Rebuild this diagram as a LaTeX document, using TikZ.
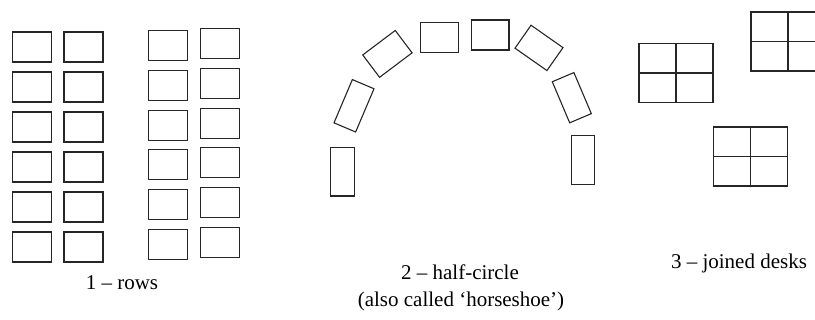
\documentclass[tikz,border=0pt]{standalone}
\usepackage{fontspec}
\setmainfont{Liberation Serif}
\begin{document}
\begin{tikzpicture}[x=1pt,y=-1pt,
  desk/.style={draw=black!85, line width=1.1pt, inner sep=0pt, outer sep=0pt, rectangle},
  rowdesk/.style={desk, minimum width=39pt, minimum height=30pt},
  talldesk/.style={desk, minimum width=23.5pt, minimum height=47pt},
  widedesk/.style={desk, minimum width=39pt, minimum height=28pt},
  group/.style={desk, minimum width=74pt, minimum height=59pt},
  lbl/.style={font=\fontsize{21}{25}\selectfont, anchor=base, inner sep=0pt}]
\useasboundingbox (0,0) rectangle (815,320);
\clip (0,0) rectangle (815,320);
% 1 - rows
\foreach \k in {0,...,5} {
  \node[rowdesk] (ra\k) at (32.2, 47+40*\k) {};
  \node[rowdesk] (rb\k) at (83.5, 47+40*\k) {};
  \node[rowdesk] (rc\k) at (168.3, 45.5+39.8*\k) {};
  \node[rowdesk] (rd\k) at (219.9, 43.5+39.8*\k) {};
}
\node[lbl] (l1) at (122,290) {1 \textendash{} rows};
% 2 - half-circle
\node[talldesk, minimum height=48.7pt] (h1) at (342.5,171.7) {};
\node[talldesk, rotate=-23] (h2) at (354,105.8) {};
\node[widedesk, minimum width=40.7pt, rotate=37] (h3) at (387.4,53.9) {};
\node[desk, minimum width=37.6pt, minimum height=30pt] (h4) at (439.5,37.3) {};
\node[desk, minimum width=37.3pt, minimum height=30pt] (h5) at (490.3,35) {};
\node[widedesk, rotate=-35] (h6) at (539,47.9) {};
\node[talldesk, minimum height=44.6pt, rotate=23] (h7) at (571.8,97.7) {};
\node[talldesk, minimum width=22.7pt, minimum height=49.3pt] (h8) at (583,160.3) {};
\node[lbl] (l2) at (460,280) {2 \textendash{} half-circle};
\node[lbl] (l2b) at (461,307) {(also called ‘horseshoe’)};
% 3 - joined desks
\foreach \n/\p in {j1/{(676,73)}, j2/{(788,41.5)}, j3/{(750.5,156.5)}} {
  \node[group] (\n) at \p {};
  \draw[line width=1.1pt, draw=black!85] (\n.north) -- (\n.south) (\n.west) -- (\n.east);
}
\node[lbl] (l3) at (739,269) {3 \textendash{} joined desks};
\end{tikzpicture}
\end{document}
